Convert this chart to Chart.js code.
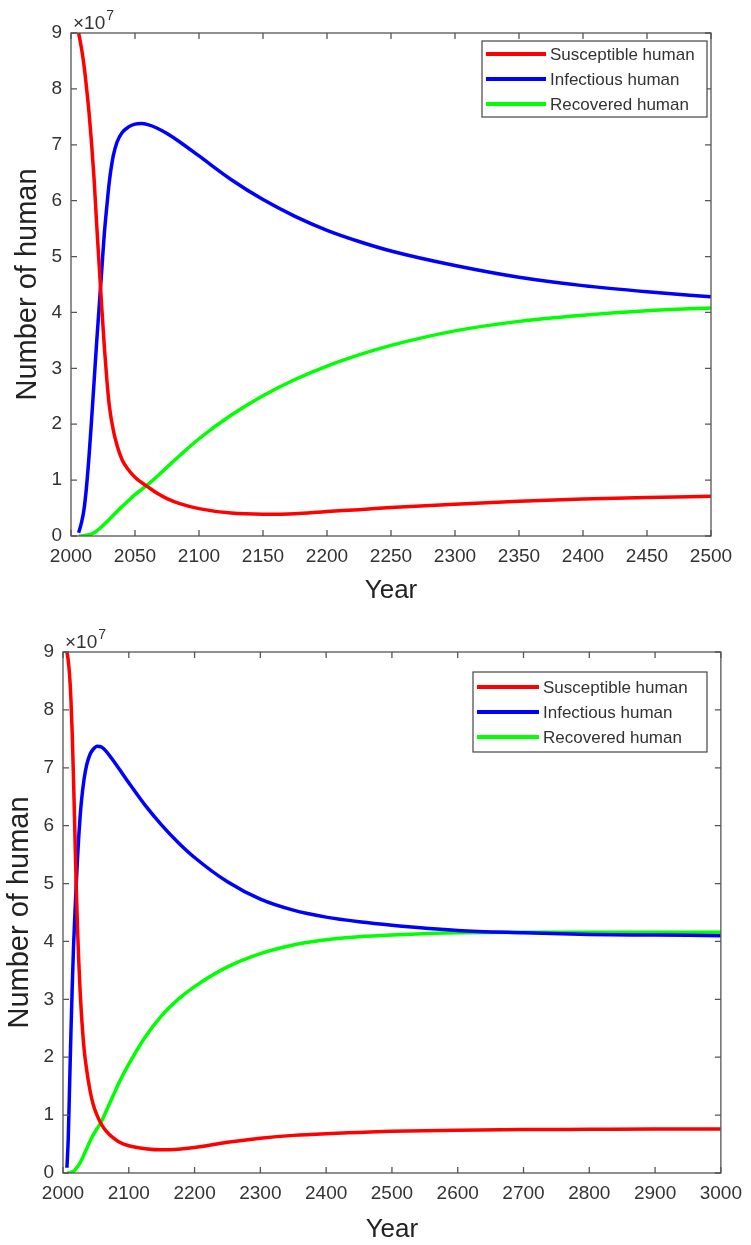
<!DOCTYPE html>
<html>
<head>
<meta charset="utf-8">
<script src="https://cdn.jsdelivr.net/npm/chart.js@4.4.0/dist/chart.umd.min.js"></script>
<style>
  body { margin: 0; background: #fff; width: 751px; height: 1245px; position: relative; overflow: hidden; }
  .panel { position: absolute; left: 0; width: 751px; }
  #topPanel { top: 0; height: 620px; }
  #bottomPanel { top: 620px; height: 625px; }
</style>
</head>
<body>
<div class="panel" id="topPanel"><canvas id="chartTop"></canvas></div>
<div class="panel" id="bottomPanel"><canvas id="chartBottom"></canvas></div>
<script>
// Values are in units of 10^7 people (axis shows "x10^7")
const seriesLabels = ['Susceptible human', 'Infectious human', 'Recovered human'];
const seriesColors = ['#ff0000', '#0000ff', '#00ff00'];

// Top panel: 2000 - 2500
const topYears = [2006, 2008, 2010, 2012, 2014, 2016, 2018, 2020, 2022, 2024, 2026, 2028, 2030, 2033, 2036, 2040, 2045, 2050, 2055, 2060, 2067, 2075, 2085, 2100, 2125, 2150, 2175, 2200, 2225, 2250, 2300, 2350, 2400, 2450, 2500];
const topSusceptible = [9.0, 8.75, 8.45, 8.05, 7.6, 7.05, 6.4, 5.6, 4.85, 4.1, 3.4, 2.8, 2.32, 1.9, 1.62, 1.36, 1.18, 1.05, 0.96, 0.88, 0.77, 0.67, 0.58, 0.49, 0.41, 0.39, 0.40, 0.44, 0.47, 0.51, 0.57, 0.62, 0.66, 0.69, 0.71];
const topInfectious = [0.06, 0.22, 0.45, 0.85, 1.4, 2.05, 2.75, 3.45, 4.1, 4.75, 5.4, 5.9, 6.35, 6.8, 7.05, 7.22, 7.32, 7.37, 7.38, 7.36, 7.3, 7.2, 7.05, 6.8, 6.38, 6.02, 5.72, 5.47, 5.27, 5.1, 4.84, 4.63, 4.48, 4.37, 4.28];
const topRecovered = [0.0, 0.0, 0.005, 0.012, 0.022, 0.037, 0.06, 0.09, 0.125, 0.165, 0.21, 0.255, 0.3, 0.37, 0.44, 0.53, 0.635, 0.74, 0.83, 0.92, 1.06, 1.23, 1.44, 1.74, 2.16, 2.51, 2.8, 3.04, 3.24, 3.41, 3.67, 3.84, 3.95, 4.03, 4.08];

// Bottom panel: 2000 - 3000
const bottomYears = [2006, 2008, 2010, 2012, 2014, 2016, 2018, 2020, 2022, 2024, 2026, 2028, 2032, 2036, 2041, 2046, 2052, 2058, 2066, 2076, 2086, 2100, 2125, 2150, 2175, 2200, 2250, 2300, 2350, 2400, 2450, 2500, 2600, 2700, 2800, 2900, 3000];
const bottomSusceptible = [9.0, 8.85, 8.6, 8.2, 7.6, 6.8, 5.9, 5.0, 4.25, 3.65, 3.15, 2.75, 2.15, 1.78, 1.43, 1.18, 0.99, 0.85, 0.72, 0.61, 0.53, 0.47, 0.42, 0.40, 0.41, 0.44, 0.53, 0.60, 0.65, 0.68, 0.70, 0.72, 0.74, 0.75, 0.755, 0.76, 0.76];
const bottomInfectious = [0.09, 0.6, 1.5, 2.4, 3.2, 3.9, 4.45, 4.95, 5.42, 5.82, 6.15, 6.42, 6.8, 7.05, 7.23, 7.32, 7.37, 7.36, 7.28, 7.13, 6.97, 6.74, 6.35, 6.01, 5.71, 5.45, 5.03, 4.73, 4.54, 4.42, 4.34, 4.28, 4.19, 4.15, 4.12, 4.11, 4.1];
const bottomRecovered = [0.0, 0.0, 0.0, 0.01, 0.02, 0.03, 0.05, 0.08, 0.11, 0.14, 0.18, 0.22, 0.32, 0.42, 0.55, 0.66, 0.77, 0.88, 1.08, 1.33, 1.58, 1.88, 2.35, 2.72, 3.0, 3.22, 3.56, 3.79, 3.94, 4.03, 4.08, 4.11, 4.15, 4.16, 4.16, 4.16, 4.16];

const FONT = '"Liberation Sans", Arial, sans-serif';
const TEXT = '#333333';
const FRAME = '#555555';

// MATLAB-like frame: box, inward ticks, exponent label, boxed legend
const matlabFrame = {
    id: 'matlabFrame',
    afterDatasetsDraw(chart, args, opts) {
        const ctx = chart.ctx;
        const a = chart.chartArea;
        const xs = chart.scales.x, ys = chart.scales.y;
        ctx.save();
        ctx.strokeStyle = FRAME;
        ctx.lineWidth = 1.3;
        ctx.strokeRect(a.left, a.top, a.right - a.left, a.bottom - a.top);
        const t = 6;
        ctx.beginPath();
        xs.ticks.forEach(tk => {
            const px = xs.getPixelForValue(tk.value);
            ctx.moveTo(px, a.bottom); ctx.lineTo(px, a.bottom - t);
            ctx.moveTo(px, a.top); ctx.lineTo(px, a.top + t);
        });
        ys.ticks.forEach(tk => {
            const py = ys.getPixelForValue(tk.value);
            ctx.moveTo(a.left, py); ctx.lineTo(a.left + t, py);
            ctx.moveTo(a.right, py); ctx.lineTo(a.right - t, py);
        });
        ctx.stroke();

        // exponent
        ctx.fillStyle = TEXT;
        ctx.textBaseline = 'alphabetic';
        ctx.textAlign = 'left';
        ctx.font = '19px ' + FONT;
        const ex = a.left + 2, ey = a.top - 4;
        ctx.fillText('\u00d710', ex, ey);
        const w = ctx.measureText('\u00d710').width;
        ctx.font = '14px ' + FONT;
        ctx.fillText('7', ex + w + 1, ey - 9);

        // legend
        const L = opts.legend;
        ctx.fillStyle = '#ffffff';
        ctx.fillRect(L.x, L.y, L.w, L.h);
        ctx.strokeStyle = '#444444';
        ctx.lineWidth = 1.2;
        ctx.strokeRect(L.x, L.y, L.w, L.h);
        ctx.font = '17px ' + FONT;
        ctx.textBaseline = 'middle';
        chart.data.datasets.forEach((ds, i) => {
            const ry = L.y + L.row0 + i * L.rowGap;
            ctx.strokeStyle = ds.borderColor;
            ctx.lineWidth = 4;
            ctx.beginPath();
            ctx.moveTo(L.x + 4, ry);
            ctx.lineTo(L.x + 4 + L.lineLen, ry);
            ctx.stroke();
            ctx.fillStyle = TEXT;
            ctx.fillText(ds.label, L.x + 8 + L.lineLen, ry + 1);
        });
        ctx.restore();
    }
};

function makeChart(id, years, series, cfg) {
    const datasets = series.map((vals, i) => ({
        label: seriesLabels[i],
        data: years.map((yr, k) => ({ x: yr, y: vals[k] })),
        borderColor: seriesColors[i],
        borderWidth: 3.5,
        pointRadius: 0,
        fill: false,
        cubicInterpolationMode: 'monotone'
    }));
    return new Chart(document.getElementById(id), {
        type: 'line',
        data: { datasets: datasets },
        plugins: [matlabFrame],
        options: {
            responsive: true,
            maintainAspectRatio: false,
            animation: false,
            layout: { padding: { left: 0, right: cfg.padRight, top: cfg.padTop, bottom: 0 } },
            plugins: {
                legend: { display: false },
                tooltip: { enabled: false },
                matlabFrame: { legend: cfg.legend }
            },
            scales: {
                x: {
                    type: 'linear',
                    min: 2000,
                    max: cfg.xMax,
                    grid: { display: false, drawTicks: false },
                    border: { display: false },
                    ticks: {
                        stepSize: cfg.xStep,
                        autoSkip: false,
                        maxRotation: 0,
                        padding: 9,
                        color: TEXT,
                        font: { family: FONT, size: 19 },
                        callback: v => String(v)
                    },
                    title: {
                        display: true,
                        text: 'Year',
                        color: '#222222',
                        font: { family: FONT, size: 26 },
                        padding: { top: 0, bottom: cfg.yearPad }
                    },
                    afterFit: s => { s.height = cfg.xAxisHeight; }
                },
                y: {
                    min: 0,
                    max: 9,
                    grid: { display: false, drawTicks: false },
                    border: { display: false },
                    ticks: {
                        stepSize: 1,
                        padding: 9,
                        color: TEXT,
                        font: { family: FONT, size: 19 }
                    },
                    title: {
                        display: true,
                        text: 'Number of human',
                        color: '#222222',
                        font: { family: FONT, size: 29 },
                        padding: { top: cfg.titlePad, bottom: 0 }
                    },
                    afterFit: s => { s.width = cfg.yAxisWidth; }
                }
            }
        }
    });
}

makeChart('chartTop', topYears, [topSusceptible, topInfectious, topRecovered], {
    xMax: 2500, xStep: 50,
    padRight: 40, padTop: 33,
    yAxisWidth: 71, xAxisHeight: 84,
    yearPad: 14, titlePad: 11,
    legend: { x: 482, y: 41, w: 225, h: 76, row0: 13, rowGap: 25, lineLen: 60 }
});

makeChart('chartBottom', bottomYears, [bottomSusceptible, bottomInfectious, bottomRecovered], {
    xMax: 3000, xStep: 100,
    padRight: 22, padTop: 32,
    yAxisWidth: 63, xAxisHeight: 72,
    yearPad: 0, titlePad: 3,
    legend: { x: 473, y: 52, w: 234, h: 80, row0: 15, rowGap: 25, lineLen: 62 }
});
</script>
</body>
</html>
